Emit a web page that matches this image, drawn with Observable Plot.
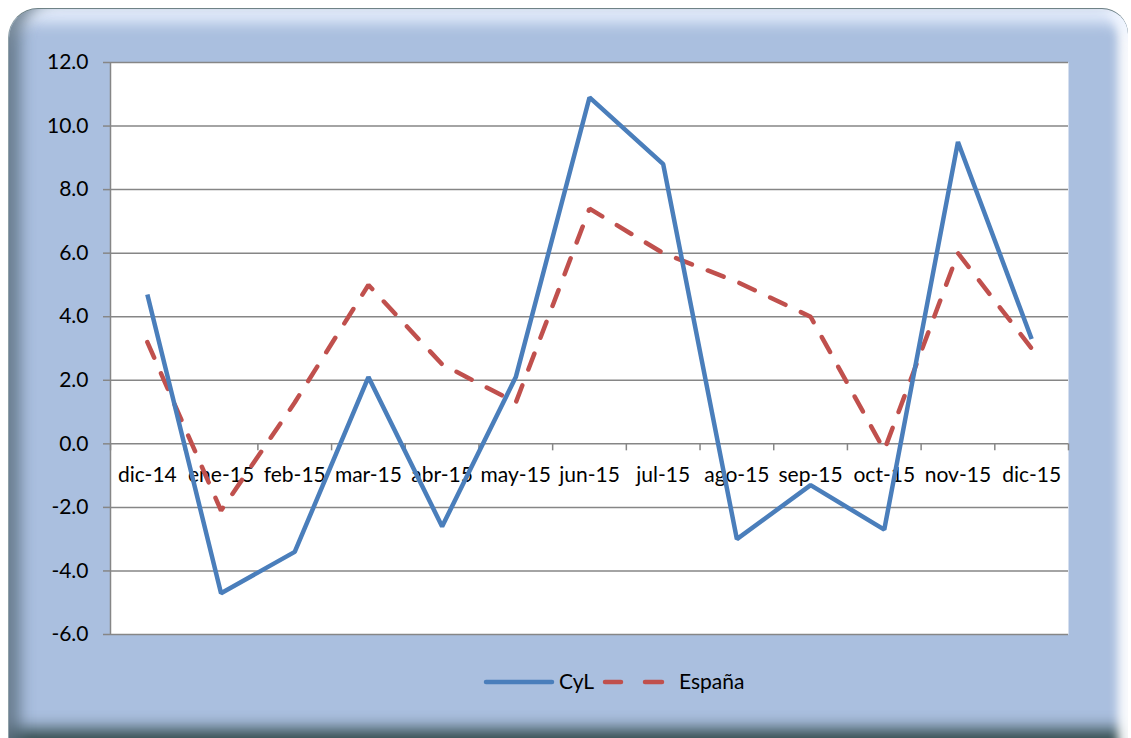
<!DOCTYPE html>
<html>
<head>
<meta charset="utf-8">
<script src="https://cdn.jsdelivr.net/npm/d3@7"></script>
<script src="https://cdn.jsdelivr.net/npm/@observablehq/plot@0.6"></script>
<style>
  html, body { margin: 0; padding: 0; background: #ffffff; width: 1131px; height: 738px; overflow: hidden; font-family: Lato, "Noto Sans", sans-serif; }
  #frame {
    position: absolute; left: 8px; top: 8px; width: 1119px; height: 736px;
    border-radius: 30px 26px 0 0;
    background: #aabfdf;
    border-top: 1px solid #6f8286; border-left: 1px solid #8fa0a8;
    box-shadow:
      inset 20px 0 14px -8px rgba(90,110,125,0.75),
      inset 0 22px 14px -8px rgba(235,242,255,0.85),
      inset -16px 0 10px -6px rgba(255,255,255,0.95),
      inset 0 -26px 16px -10px rgba(45,70,70,0.95);
  }
  #chart { position: absolute; left: 0; top: 0; }
  #legend { position: absolute; left: 0; top: 660px; }
</style>
</head>
<body>
<div id="frame"></div>
<div id="chart"></div>
<svg id="legend" width="1131" height="50" font-family="Lato, sans-serif" font-size="21">
  <line x1="486" y1="22" x2="552" y2="22" stroke="#4a7ebb" stroke-width="4.5" stroke-linecap="round"/>
  <text x="559" y="29" fill="#000">CyL</text>
  <line x1="605" y1="22" x2="621" y2="22" stroke="#c0504d" stroke-width="4.5" stroke-linecap="round"/>
  <line x1="645" y1="22" x2="662" y2="22" stroke="#c0504d" stroke-width="4.5" stroke-linecap="round"/>
  <text x="679" y="29" fill="#000">España</text>
</svg>
<script>
const months = ["dic-14","ene-15","feb-15","mar-15","abr-15","may-15","jun-15","jul-15","ago-15","sep-15","oct-15","nov-15","dic-15"];
const cyl    = [4.7, -4.7, -3.4, 2.1, -2.6, 2.1, 10.9, 8.8, -3.0, -1.3, -2.7, 9.5, 3.3];
const espana = [3.2, -2.1, 1.3, 5.0, 2.5, 1.3, 7.4, 6.0, 5.1, 4.0, -0.2, 6.0, 3.0];
const yTicks = [-6, -4, -2, 0, 2, 4, 6, 8, 10, 12];

const rows = months.map((m, i) => ({m, i, cyl: cyl[i], esp: espana[i]}));
const bounds = [-0.5, ...months.map((m, i) => i + 0.5)];
const grid = "#868686";

const chart = Plot.plot({
  width: 1131,
  height: 660,
  marginLeft: 110,
  marginRight: 63,
  marginTop: 62,
  marginBottom: 26,
  style: {background: "transparent", fontFamily: "Lato, sans-serif", fontSize: "21px", color: "#000"},
  x: {type: "linear", domain: [-0.5, months.length - 0.5], axis: null},
  y: {domain: [-6, 12], axis: null},
  marks: [
    Plot.frame({fill: "white"}),
    Plot.gridY(yTicks, {stroke: grid, strokeOpacity: 1, strokeWidth: 1.5}),
    Plot.ruleX([-0.5], {stroke: grid, strokeWidth: 1.5}),
    Plot.ruleX(bounds, {x: d => d, y1: 0, y2: 0, insetBottom: -7, stroke: grid, strokeWidth: 1.5}),
    Plot.axisY(yTicks, {tickFormat: d => d.toFixed(1), tickSize: 7, tickPadding: 15, stroke: grid, strokeWidth: 1.5, fill: "#000", fontSize: 21, label: null}),
    Plot.text(rows, {x: "i", y: 0, text: "m", dy: 31, fill: "#000", fontSize: 21}),
    Plot.line(rows, {x: "i", y: "esp", stroke: "#c0504d", strokeWidth: 4.5, strokeDasharray: "17,17", strokeLinecap: "round", strokeLinejoin: "miter"}),
    Plot.line(rows, {x: "i", y: "cyl", stroke: "#4a7ebb", strokeWidth: 4.5, strokeLinecap: "butt", strokeLinejoin: "miter"})
  ]
});
document.getElementById("chart").appendChild(chart);
</script>
</body>
</html>
